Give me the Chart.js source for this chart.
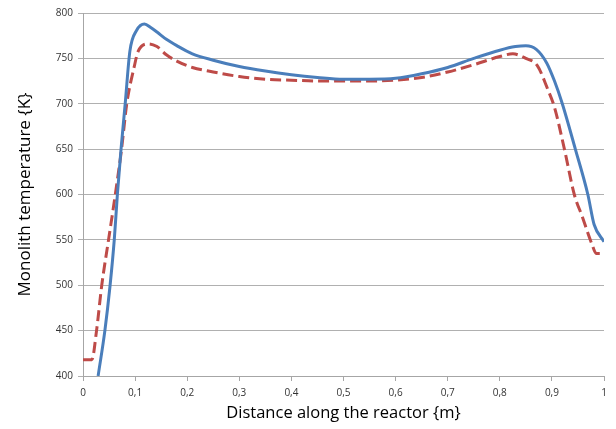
<!DOCTYPE html>
<html>
<head>
<meta charset="utf-8">
<script src="https://cdn.jsdelivr.net/npm/chart.js@4"></script>
<style>
html,body{margin:0;padding:0;background:#fff;}
#wrap{width:616px;height:429px;}
</style>
</head>
<body>
<div id="wrap"><canvas id="c" width="616" height="429"></canvas></div>
<script>
const blueX = [0.029,0.042,0.052,0.060,0.066,0.073,0.081,0.090,0.103,0.118,0.130,0.142,0.16,0.18,0.21,0.25,0.30,0.35,0.40,0.45,0.50,0.55,0.60,0.65,0.70,0.75,0.80,0.83,0.85,0.87,0.89,0.905,0.92,0.945,0.969,0.981,1.0];
const blueT = [400,450,500,550,600,650,700,758,781,788,784,779,771,764,755,748,741,736,732,729,727,727,728,733,740,750,759,763,764,760,745,725,700,650,600,567,548];
const redX = [0.0,0.017,0.026,0.036,0.049,0.062,0.074,0.084,0.098,0.106,0.126,0.142,0.16,0.18,0.21,0.25,0.30,0.35,0.40,0.45,0.50,0.55,0.60,0.65,0.70,0.75,0.80,0.825,0.85,0.872,0.892,0.905,0.924,0.943,0.958,0.977,0.985,1.0];
const redT = [418,418,450,500,550,600,650,700,740,758,766,763,754,747,740,735,730,727,726,725,725,725,726,729,735,743,752,755,750,742,716,696,650,600,576,545,535,535];
const xTicks = [0,0.1,0.2,0.3,0.4,0.5,0.6,0.7,0.8,0.9,1];
const yTicks = [400,450,500,550,600,650,700,750,800];

const toPts = (xs, ys) => xs.map((x, i) => ({x: x, y: ys[i]}));
const FONT = "'Open Sans', 'Liberation Sans', sans-serif";

new Chart(document.getElementById('c'), {
  type: 'line',
  data: {
    datasets: [
      {data: toPts(blueX, blueT), borderColor: '#4A7EBB', borderWidth: 3, pointRadius: 0, cubicInterpolationMode: 'monotone', fill: false},
      {data: toPts(redX, redT), borderColor: '#BE4B48', borderWidth: 3, borderDash: [11, 5], pointRadius: 0, cubicInterpolationMode: 'monotone', fill: false}
    ]
  },
  options: {
    responsive: false,
    animation: false,
    layout: {padding: {left: 0, right: 12, top: 13, bottom: 0}},
    plugins: {legend: {display: false}, tooltip: {enabled: false}},
    scales: {
      x: {
        type: 'linear', min: 0, max: 1,
        afterBuildTicks: s => { s.ticks = xTicks.map(v => ({value: v})); },
        afterFit: s => { s.height = 53; },
        ticks: {
          color: '#333', font: {family: FONT, size: 10}, padding: 6, maxRotation: 0,
          callback: v => String(v).replace('.', ',')
        },
        grid: {drawOnChartArea: false, drawTicks: true, tickLength: 5, color: '#A6A6A6'},
        border: {color: '#A6A6A6', width: 1},
        title: {display: true, text: 'Distance along the reactor {m}', color: '#000', font: {family: FONT, size: 16.5}, padding: {top: 2, bottom: 6}}
      },
      y: {
        min: 400, max: 800,
        afterBuildTicks: s => { s.ticks = yTicks.map(v => ({value: v})); },
        afterFit: s => { s.width = 83; },
        ticks: {color: '#333', font: {family: FONT, size: 10}, padding: 5},
        grid: {color: '#B0B0B0', tickLength: 5, lineWidth: 1},
        border: {color: '#A6A6A6', width: 1},
        title: {display: true, text: 'Monolith temperature {K}', color: '#000', font: {family: FONT, size: 17}, padding: {top: 15, bottom: 0}}
      }
    }
  }
});
</script>
</body>
</html>
